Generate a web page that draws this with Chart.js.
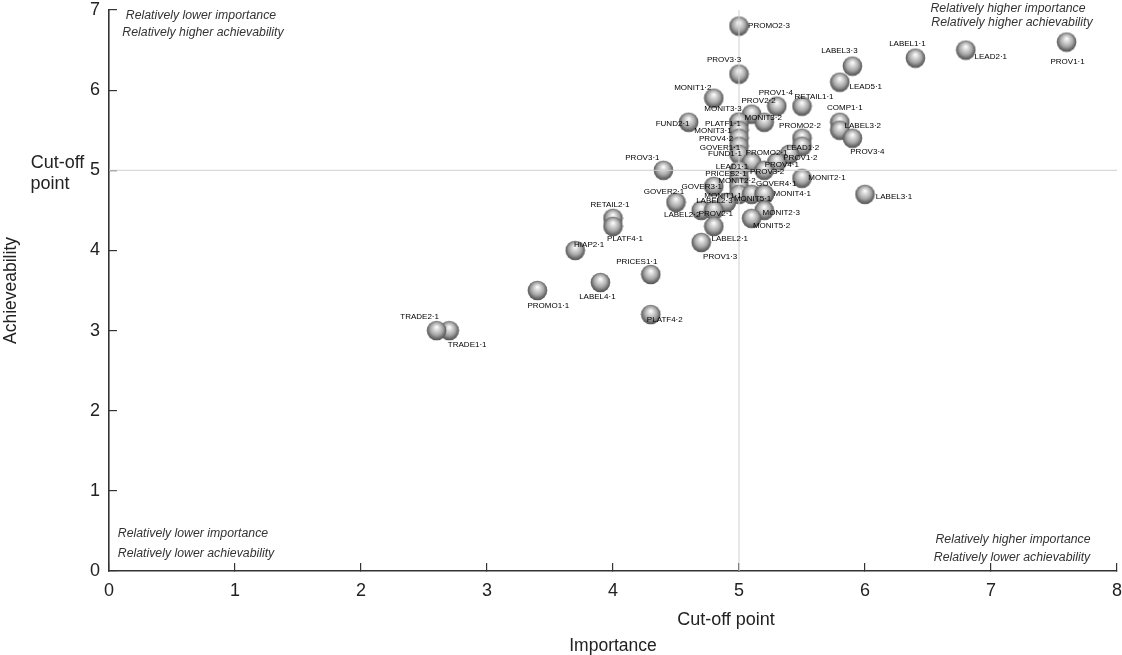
<!DOCTYPE html>
<html>
<head>
<meta charset="utf-8">
<title>Importance and achieveability</title>
<script src="https://cdn.jsdelivr.net/npm/chart.js@4"></script>
<style>
    html, body { margin: 0; padding: 0; background: #fff; overflow: hidden; }
    canvas { display: block; }
</style>
</head>
<body>
<canvas id="myChart" width="1122" height="655"></canvas>
<script>
// Indicators
const indicators = [
    'PROMO2·3', 'PROV3·3', 'LABEL3·3', 'LABEL1·1', 'LEAD2·1', 'PROV1·1', 'LEAD5·1', 'MONIT1·2',
    'PROV1·4', 'RETAIL1·1', 'PROV2·2', 'MONIT3·2', 'FUND2·1', 'PLATF1·1', 'MONIT3·3', 'MONIT3·1',
    'COMP1·1', 'LABEL3·2', 'PROV3·4', 'PROMO2·2', 'LEAD1·2', 'PROV4·2', 'GOVER1·1', 'FUND1·1',
    'PROV1·2', 'PROMO2·1', 'PROV4·1', 'PROV3·2', 'LEAD1·1', 'PROV3·1', 'MONIT2·1', 'PRICES2·1',
    'MONIT2·2', 'GOVER3·1', 'MONIT1·1', 'MONIT5·1', 'GOVER4·1', 'MONIT4·1', 'LABEL3·1', 'GOVER2·1',
    'LABEL2·3', 'LABEL2·2', 'PROV2·1', 'MONIT2·3', 'MONIT5·2', 'LABEL2·1', 'PROV1·3', 'RETAIL2·1',
    'PLATF4·1', 'HIAP2·1', 'PRICES1·1', 'LABEL4·1', 'PROMO1·1', 'PLATF4·2', 'TRADE1·1', 'TRADE2·1'
];
const importance = [
    5.0, 5.0, 5.9, 6.4, 6.8, 7.6, 5.8, 4.8,
    5.3, 5.5, 5.1, 5.2, 4.6, 5.0, 5.0, 5.0,
    5.8, 5.8, 5.9, 5.5, 5.5, 5.0, 5.0, 5.0,
    5.4, 5.1, 5.3, 5.2, 5.0, 4.4, 5.5, 5.0,
    5.0, 4.8, 5.0, 5.1, 5.2, 5.2, 6.0, 4.5,
    4.9, 4.7, 4.8, 5.2, 5.1, 4.8, 4.7, 4.0,
    4.0, 3.7, 4.3, 3.9, 3.4, 4.3, 2.7, 2.6
];
const achievability = [
    6.8, 6.2, 6.3, 6.4, 6.5, 6.6, 6.1, 5.9,
    5.8, 5.8, 5.7, 5.6, 5.6, 5.6, 5.6, 5.5,
    5.6, 5.5, 5.4, 5.4, 5.3, 5.4, 5.3, 5.2,
    5.2, 5.1, 5.1, 5.0, 5.0, 5.0, 4.9, 4.9,
    4.8, 4.8, 4.7, 4.7, 4.7, 4.7, 4.7, 4.6,
    4.6, 4.5, 4.5, 4.5, 4.4, 4.3, 4.1, 4.4,
    4.3, 4.0, 3.7, 3.6, 3.5, 3.2, 3.0, 3.0
];
const cutOffImportance = 5;
const cutOffAchievability = 5;
const xTicks = [0, 1, 2, 3, 4, 5, 6, 7, 8];
const yTicks = [0, 1, 2, 3, 4, 5, 6, 7];

// Where each name sits relative to its ball, same order as indicators
const labelOffsetX = [
    30, -15, -13, -8, 25, 1, 26, -21,
    -1, 12, 7, -1, -16, -16, -16, -26,
    5, 23, 15, -2, 1, -23, -19, -14,
    11, 15, 5, 3, -7, -21, 25, -13,
    -2, -12, -16, 1, 12, 28, 29, -12,
    -12, -19, 2, 17, 20, 16, 19, -3,
    12, 14, -14, -3, 11, 14, 18, -17
];
const labelOffsetY = [
    0, -14, -15, -14, 7, 20, 5, -10,
    -13, -9, -13, -4, 2, 2, -13, 1,
    -14, -4, 14, -12, 2, 1, 2, 0,
    4, -9, 3, 2, -3, -12, -1, -5,
    -6, 0, 1, 4, -11, -1, 2, -11,
    -2, 4, 3, 2, 7, 12, 14, -14,
    12, -6, -13, 14, 15, 5, 14, -14
];

// Free text around the plot
const cornerNotes = [
    ['Relatively lower importance', 201, 16],
    ['Relatively higher achievability', 203, 33],
    ['Relatively higher importance', 1008, 9],
    ['Relatively higher achievability', 1012, 23],
    ['Relatively lower importance', 193, 534],
    ['Relatively lower achievability', 196, 554],
    ['Relatively higher importance', 1013, 540],
    ['Relatively lower achievability', 1012, 558]
];
const cutOffNotes = [
    ['Cut-off point', 726, 620],
    ['Cut-off', 57.5, 163],
    ['point', 50, 184]
];

const fontFamily = '"Liberation Sans", Arial, sans-serif';

// Grey shaded ball used as the point image
function makeBall() {
    let size = 21;
    let c = document.createElement('canvas');
    c.width = size;
    c.height = size;
    let g = c.getContext('2d');
    let shade = g.createRadialGradient(10.5, 7, 0.5, 10.5, 10, 10);
    shade.addColorStop(0, '#fafafa');
    shade.addColorStop(0.25, '#d8d8d8');
    shade.addColorStop(0.6, '#a8a8a8');
    shade.addColorStop(0.85, '#707070');
    shade.addColorStop(1, '#555');
    g.fillStyle = shade;
    g.beginPath();
    g.arc(10.5, 10.5, 9.8, 0, Math.PI * 2);
    g.fill();
    return c;
}

const labelsPlugin = {
    id: 'chartTexts',
    afterDatasetsDraw(chart) {
        let ctx = chart.ctx;
        let balls = chart.getDatasetMeta(2).data;
        ctx.save();
        ctx.textAlign = 'center';
        ctx.textBaseline = 'middle';

        ctx.fillStyle = '#000';
        ctx.font = '8px ' + fontFamily;
        indicators.forEach((name, i) => {
            ctx.fillText(name, balls[i].x + labelOffsetX[i], balls[i].y + labelOffsetY[i]);
        });

        ctx.fillStyle = '#333';
        ctx.font = 'italic 12.3px ' + fontFamily;
        cornerNotes.forEach(n => ctx.fillText(n[0], n[1], n[2]));

        ctx.fillStyle = '#222';
        ctx.font = '18px ' + fontFamily;
        cutOffNotes.forEach(n => ctx.fillText(n[0], n[1], n[2]));
        ctx.restore();
    }
};

function axisOptions(title, ticks, max, side) {
    return {
        type: 'linear',
        min: 0,
        max: max,
        afterBuildTicks: scale => { scale.ticks = ticks.map(v => ({ value: v })); },
        afterFit: scale => {
            if (side == 'x') { scale.height = 84; } else { scale.width = 109; }
            // plot runs right up to the given margins, tick labels may stick out
            scale.paddingLeft = 0;
            scale.paddingRight = 0;
            scale.paddingTop = 0;
            scale.paddingBottom = 0;
        },
        border: { color: '#333', width: 1.6 },
        grid: { drawOnChartArea: false, color: '#333', lineWidth: 1.2, tickLength: -8 },
        ticks: { color: '#222', font: { size: 18, family: fontFamily }, padding: 17, maxRotation: 0 },
        title: {
            display: true, text: title, color: '#222',
            font: { size: 17.5, family: fontFamily },
            padding: side == 'x' ? { top: 0, bottom: -2 } : { top: 1, bottom: 0 }
        }
    };
}

new Chart(document.getElementById('myChart'), {
    type: 'scatter',
    data: {
        datasets: [
            {
                label: 'Cut-off importance',
                data: [{ x: cutOffImportance, y: 0 }, { x: cutOffImportance, y: 7 }],
                showLine: true, borderColor: '#cfcfcf', borderWidth: 1, pointRadius: 0
            },
            {
                label: 'Cut-off achievability',
                data: [{ x: 0, y: cutOffAchievability }, { x: 8, y: cutOffAchievability }],
                showLine: true, borderColor: '#cfcfcf', borderWidth: 1, pointRadius: 0
            },
            {
                label: 'Indicators',
                data: indicators.map((n, i) => ({ x: importance[i], y: achievability[i] })),
                pointStyle: makeBall(),
                pointRadius: 10
            }
        ]
    },
    options: {
        responsive: false,
        animation: false,
        layout: { autoPadding: false, padding: { top: 10, right: 5, left: 0, bottom: 0 } },
        plugins: { legend: { display: false }, tooltip: { enabled: false } },
        scales: {
            x: axisOptions('Importance', xTicks, 8, 'x'),
            y: axisOptions('Achieveability', yTicks, 7, 'y')
        }
    },
    plugins: [labelsPlugin]
});
</script>
</body>
</html>
